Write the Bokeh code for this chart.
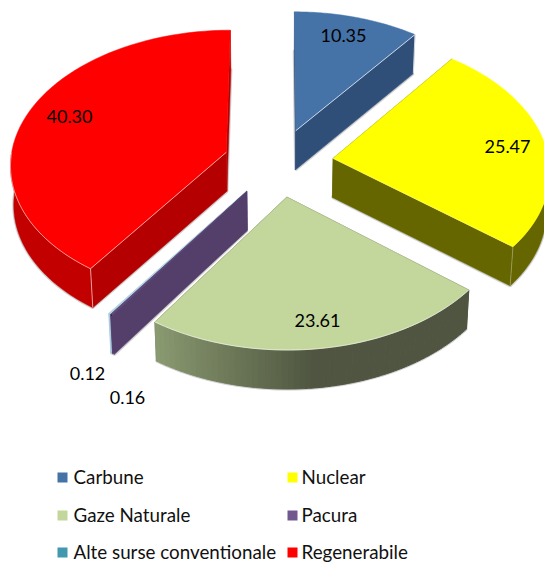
import numpy as np
from bokeh.plotting import figure
from bokeh.models import Range1d
from bokeh.core.properties import value
from bokeh.embed import file_html
from bokeh.resources import INLINE

# ---- data
categories = ["Carbune", "Nuclear", "Gaze Naturale", "Pacura", "Alte surse conventionale", "Regenerabile"]
values = [10.35, 25.47, 23.61, 0.16, 0.12, 40.30]
value_labels = ["10.35", "25.47", "23.61", "0.16", "0.12", "40.30"]

# ---- style
top_colors = ["#4572a7", "#ffff00", "#c3d69b", "#5f4a7c", "#b4d2e2", "#ff0000"]
wall_colors = ["#2f4f78", "#666600", "#50563f", "#543f6b", "#a9cbdd", "#b40000"]
outer_colors = ["#2f4f78", "#666600", "#50563f", "#543f6b", "#a9cbdd", "#c20000"]
legend_colors = ["#4572a7", "#ffff00", "#c3d69b", "#71588f", "#4198af", "#ff0000"]
bevel_alpha = [0.7, 0.3, 0.0, 0.0, 0.0, 0.6]
rim_alpha = [0.0, 0.0, 0.6, 0.0, 0.0, 0.55]
draw_order = [0, 5, 1, 4, 3, 2]
label_x = [343, 507, 317, 127, 87, 69]
label_y = [35, 146, 320, 397, 373, 116]
legend_mx = [62, 292, 62, 292, 62, 292]
legend_tx = [73, 301, 73, 301, 73, 301]
legend_y = [476, 476, 514, 514, 551, 551]
legend_my = [477, 477, 515, 515, 552, 552]
FONT = "Lato"

# ---- projection of the exploded 3D pie
CX, CY, FX, FY, K, EXPLODE, DEPTH, SHRINK = 278, 162, 216, 134, 0.084, 0.255, 39, 0.988


def project(xw, yw, low=False):
    s = 1 / (1 + K * yw)
    x = FX * xw * s
    y = CY - FY * yw * s
    if low:
        return CX + x * SHRINK, y + DEPTH
    return CX + x, y


def sector(i):
    total = sum(values)
    start = 360 * sum(values[:i]) / total
    end = start + 360 * values[i] / total
    mid = np.radians((start + end) / 2)
    return start, end, EXPLODE * np.sin(mid), EXPLODE * np.cos(mid)


def rim(ax, ay, a0, a1, low=False, n=60):
    t = np.radians(np.linspace(a0, a1, n))
    return project(ax + np.sin(t), ay + np.cos(t), low)


def lerp_color(c0, c1, f):
    a = [int(c0[j:j + 2], 16) for j in (1, 3, 5)]
    b = [int(c1[j:j + 2], 16) for j in (1, 3, 5)]
    return "#%02x%02x%02x" % tuple(int(round(u + (v - u) * f)) for u, v in zip(a, b))


p = figure(width=544, height=562, x_range=Range1d(0, 544), y_range=Range1d(562, 0),
           toolbar_location=None, output_backend="svg", min_border=0,
           outline_line_color=None, background_fill_color="white", border_fill_color="white")
p.axis.visible = False
p.grid.visible = False

for i in draw_order:
    a0, a1, ax, ay = sector(i)
    # soft shadow round the lower face
    rx, ry = rim(ax, ay, a0, a1, True)
    px, py = project(ax, ay, True)
    p.patch(list(rx) + [px], list(ry) + [py], fill_color=None, line_color="#9a9a9a",
            line_alpha=0.45, line_width=3)
    # radial walls
    qx, qy = project(ax, ay)
    for a in (a0, a1):
        tx, ty = project(ax + np.sin(np.radians(a)), ay + np.cos(np.radians(a)))
        bx, by = project(ax + np.sin(np.radians(a)), ay + np.cos(np.radians(a)), True)
        p.patch([qx, tx, bx, px], [qy, ty, by, py], fill_color=wall_colors[i], line_color=wall_colors[i], line_width=0.5)
    # outer wall
    w0, w1 = max(a0, 90), min(a1, 270)
    if w1 > w0:
        if categories[i] == "Gaze Naturale":
            edges = np.linspace(w1, w0, 61)
            for j in range(60):
                f = min(1.0, j / 28)
                col = lerp_color("#8a9a70", "#4f5540", f)
                ux, uy = rim(ax, ay, edges[j], edges[j + 1], False, 3)
                lx, ly = rim(ax, ay, edges[j], edges[j + 1], True, 3)
                p.patch(list(ux) + list(lx[::-1]), list(uy) + list(ly[::-1]), fill_color=col, line_color=col, line_width=1)
        else:
            ux, uy = rim(ax, ay, w0, w1)
            lx, ly = rim(ax, ay, w0, w1, True)
            p.patch(list(ux) + list(lx[::-1]), list(uy) + list(ly[::-1]), fill_color=outer_colors[i],
                    line_color=outer_colors[i], line_width=0.5)
    # top face
    ux, uy = rim(ax, ay, a0, a1)
    p.patch([qx] + list(ux), [qy] + list(uy), fill_color=top_colors[i], line_color=top_colors[i], line_width=0.5)
    # bevel highlights
    if rim_alpha[i] > 0:
        ex, ey = rim(ax, ay, w0, w1)
        p.line(ex, ey, line_color="white", line_alpha=rim_alpha[i], line_width=1)
    if bevel_alpha[i] > 0:
        a = a0 if categories[i] == "Regenerabile" else a1
        sa, ca = np.sin(np.radians(a)), np.cos(np.radians(a))
        tx, ty = project(ax + sa, ay + ca)
        bx, by = project(ax + sa, ay + ca, True)
        p.multi_line([[qx, tx], [tx, bx]], [[qy, ty], [ty, by]], line_color="white",
                     line_alpha=bevel_alpha[i], line_width=1)

p.text(label_x, label_y, text=value_labels, text_font=value(FONT), text_font_size="18px",
       text_color="#000000", text_align="center", text_baseline="middle")

p.rect(legend_mx, legend_my, width=10, height=10, fill_color=legend_colors, line_color=None)
p.text(legend_tx, legend_y, text=categories, text_font=value(FONT), text_font_size="18.8px",
       text_color="#111111", text_align="left", text_baseline="middle")

open("out.html", "w").write(file_html(p, INLINE))
